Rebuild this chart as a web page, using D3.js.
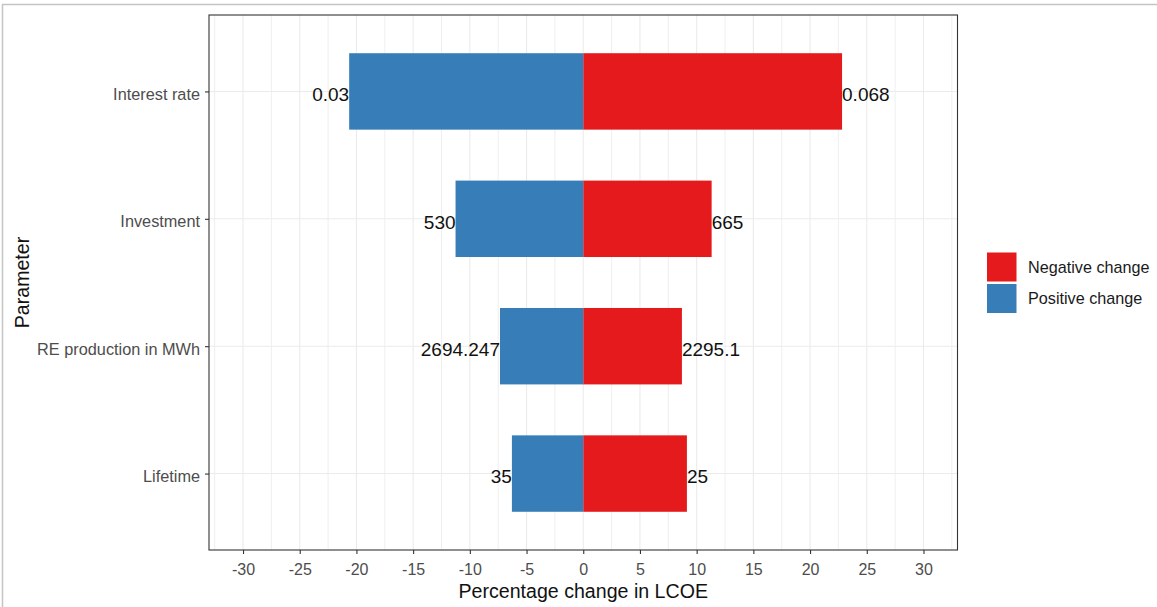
<!DOCTYPE html>
<html>
<head>
<meta charset="utf-8">
<script src="https://cdn.jsdelivr.net/npm/d3@7"></script>
<style>
  html, body { margin: 0; padding: 0; background: #fff; }
  svg { display: block; font-family: "Liberation Sans", Arial, sans-serif; }
</style>
</head>
<body>
<svg id="chart" width="1157" height="607"></svg>
<script>
// ---- Data ----
const categories = ["Interest rate", "Investment", "RE production in MWh", "Lifetime"];
const negativeChange = [22.82, 11.32, 8.70, 9.14];      // red bars (right)
const positiveChange = [-20.64, -11.26, -7.34, -6.29];  // blue bars (left)
const highLabels = ["0.068", "665", "2295.1", "25"];
const lowLabels = ["0.03", "530", "2694.247", "35"];
const xTicks = [-30, -25, -20, -15, -10, -5, 0, 5, 10, 15, 20, 25, 30];
const xTickLabels = ["-30", "-25", "-20", "-15", "-10", "-5", "0", "5", "10", "15", "20", "25", "30"];
const xMinorTicks = [-32.5, -27.5, -22.5, -17.5, -12.5, -7.5, -2.5, 2.5, 7.5, 12.5, 17.5, 22.5, 27.5, 32.5];
const seriesNames = ["Negative change", "Positive change"];
const seriesColors = ["#E41A1C", "#377EB8"];

const svg = d3.select("#chart");

// outer frame lines of the screenshot
svg.append("line").attr("x1", 2).attr("x2", 1157).attr("y1", 4.5).attr("y2", 4.5)
  .attr("stroke", "#c4c4c4").attr("stroke-width", 1.5);
svg.append("line").attr("x1", 2.5).attr("x2", 2.5).attr("y1", 4).attr("y2", 607)
  .attr("stroke", "#c4c4c4").attr("stroke-width", 1.5);

const panel = { left: 209, right: 957.5, top: 15, bottom: 550 };

const x = d3.scaleLinear().domain([-33, 33]).range([panel.left, panel.right]);
const y = d3.scalePoint().domain(categories).range([panel.top, panel.bottom]).padding(0.6);
const barH = y.step() * 0.6;

// grid
const g = svg.append("g");
g.selectAll("line.minor").data(xMinorTicks).enter().append("line")
  .attr("x1", d => x(d)).attr("x2", d => x(d))
  .attr("y1", panel.top).attr("y2", panel.bottom)
  .attr("stroke", "#EBEBEB").attr("stroke-width", 0.8);
g.selectAll("line.major").data(xTicks).enter().append("line")
  .attr("x1", d => x(d)).attr("x2", d => x(d))
  .attr("y1", panel.top).attr("y2", panel.bottom)
  .attr("stroke", "#EBEBEB").attr("stroke-width", 1.1);
g.selectAll("line.hmajor").data(categories).enter().append("line")
  .attr("x1", panel.left).attr("x2", panel.right)
  .attr("y1", d => y(d)).attr("y2", d => y(d))
  .attr("stroke", "#EBEBEB").attr("stroke-width", 1.1);

// bars
const rows = categories.map((c, i) => ({ c, neg: negativeChange[i], pos: positiveChange[i], hi: highLabels[i], lo: lowLabels[i] }));
g.selectAll("rect.neg").data(rows).enter().append("rect")
  .attr("x", x(0)).attr("width", d => x(d.neg) - x(0))
  .attr("y", d => y(d.c) - barH / 2).attr("height", barH)
  .attr("fill", seriesColors[0]);
g.selectAll("rect.pos").data(rows).enter().append("rect")
  .attr("x", d => x(d.pos)).attr("width", d => x(0) - x(d.pos))
  .attr("y", d => y(d.c) - barH / 2).attr("height", barH)
  .attr("fill", seriesColors[1]);

// labels
g.selectAll("text.hi").data(rows).enter().append("text")
  .attr("x", d => x(d.neg)).attr("y", d => y(d.c)).attr("dy", "0.52em")
  .attr("text-anchor", "start").attr("font-size", 19).attr("fill", "#111")
  .text(d => d.hi);
g.selectAll("text.lo").data(rows).enter().append("text")
  .attr("x", d => x(d.pos)).attr("y", d => y(d.c)).attr("dy", "0.52em")
  .attr("text-anchor", "end").attr("font-size", 19).attr("fill", "#111")
  .text(d => d.lo);

// panel border
svg.append("rect").attr("x", panel.left).attr("y", panel.top)
  .attr("width", panel.right - panel.left).attr("height", panel.bottom - panel.top)
  .attr("fill", "none").attr("stroke", "#333").attr("stroke-width", 1.1);

// x axis
const xAxis = d3.axisBottom(x).tickValues(xTicks).tickSize(4).tickPadding(6)
  .tickFormat((d, i) => xTickLabels[i]);
const xa = svg.append("g").attr("transform", `translate(0,${panel.bottom})`).call(xAxis);
xa.select(".domain").remove();
xa.selectAll(".tick line").attr("stroke", "#333").attr("stroke-width", 1.1);
xa.selectAll(".tick text").attr("fill", "#4D4D4D").attr("font-size", 16)
  .attr("font-family", "Liberation Sans, Arial, sans-serif").attr("dy", null).attr("y", 24.5);

// y axis
const yAxis = d3.axisLeft(y).tickSize(4).tickPadding(5);
const ya = svg.append("g").attr("transform", `translate(${panel.left},0)`).call(yAxis);
ya.select(".domain").remove();
ya.selectAll(".tick line").attr("stroke", "#333").attr("stroke-width", 1.1);
ya.selectAll(".tick text").attr("fill", "#4D4D4D").attr("font-size", 16.3)
  .attr("font-family", "Liberation Sans, Arial, sans-serif").attr("dy", "0.5em");

// axis titles
svg.append("text").attr("x", (panel.left + panel.right) / 2).attr("y", 597.5)
  .attr("text-anchor", "middle").attr("font-size", 19.6).attr("fill", "#111")
  .text("Percentage change in LCOE");
svg.append("text").attr("transform", `translate(28.5,${(panel.top + panel.bottom) / 2}) rotate(-90)`)
  .attr("text-anchor", "middle").attr("font-size", 19.6).attr("fill", "#111")
  .text("Parameter");

// legend
const leg = svg.append("g");
const keyY = [252.5, 284];
seriesNames.forEach((name, i) => {
  leg.append("rect").attr("x", 987).attr("y", keyY[i]).attr("width", 29.5).attr("height", 29)
    .attr("fill", seriesColors[i]);
  leg.append("text").attr("x", 1028).attr("y", keyY[i] + 14.5).attr("dy", "0.36em")
    .attr("font-size", 16.2).attr("fill", "#1a1a1a").text(name);
});
</script>
</body>
</html>
